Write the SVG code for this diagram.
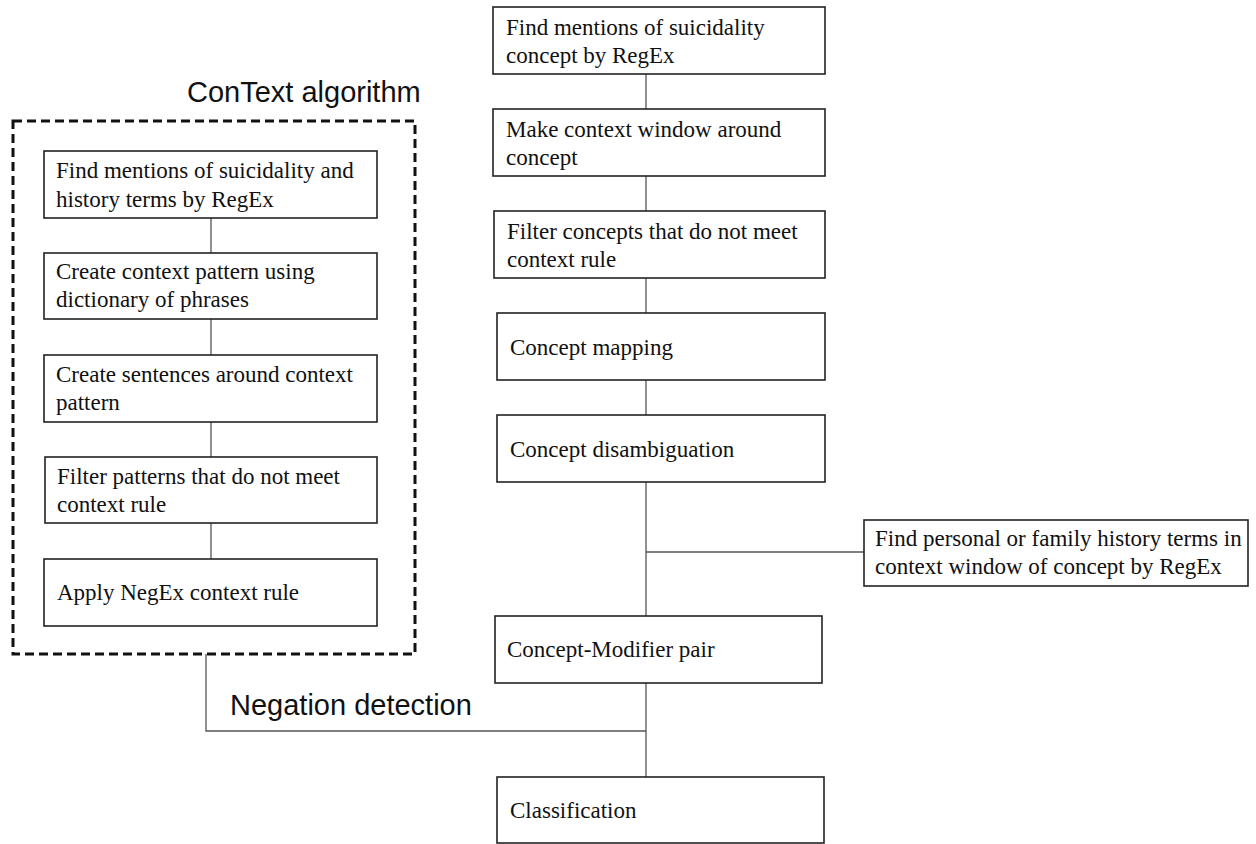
<svg xmlns="http://www.w3.org/2000/svg" width="1256" height="844" viewBox="0 0 1256 844">
<style>
.box{fill:#fff;stroke:#222;stroke-width:1.6}
.t{font-family:"Liberation Serif","Times New Roman",serif;font-size:23px;fill:#111}
.h{font-family:"Liberation Sans",Arial,sans-serif;font-size:29px;fill:#111}
.c{stroke:#555;stroke-width:1.3;fill:none}
</style>
<rect width="1256" height="844" fill="#fff"/>
<g id="connectors">
<line class="c" x1="211" y1="218" x2="211" y2="253"/>
<line class="c" x1="211" y1="319" x2="211" y2="355"/>
<line class="c" x1="211" y1="422" x2="211" y2="457"/>
<line class="c" x1="211" y1="523" x2="211" y2="559"/>
<polyline class="c" points="206,654 206,731 646,731"/>
<line class="c" x1="646" y1="74" x2="646" y2="109"/>
<line class="c" x1="646" y1="176" x2="646" y2="211"/>
<line class="c" x1="646" y1="278" x2="646" y2="313"/>
<line class="c" x1="646" y1="380" x2="646" y2="415"/>
<line class="c" x1="646" y1="482" x2="646" y2="616"/>
<line class="c" x1="646" y1="552" x2="864" y2="552"/>
<line class="c" x1="646" y1="683" x2="646" y2="777"/>
</g>
<g id="context-group">
<rect x="13" y="121" width="402" height="533" fill="none" stroke="#111" stroke-width="3" stroke-dasharray="9,5"/>
<text class="h" x="187" y="102">ConText algorithm</text>
</g>
<text id="negation-label" class="h" x="230" y="715">Negation detection</text>
<g id="l1"><rect class="box" x="44" y="151" width="333" height="67"/><text class="t" x="56" y="178">Find mentions of suicidality and</text><text class="t" x="56" y="207">history terms by RegEx</text></g>
<g id="l2"><rect class="box" x="44" y="253" width="333" height="66"/><text class="t" x="56" y="279">Create context pattern using</text><text class="t" x="56" y="307">dictionary of phrases</text></g>
<g id="l3"><rect class="box" x="44" y="355" width="333" height="67"/><text class="t" x="56" y="382">Create sentences around context</text><text class="t" x="56" y="410">pattern</text></g>
<g id="l4"><rect class="box" x="45" y="457" width="332" height="66"/><text class="t" x="57" y="484">Filter patterns that do not meet</text><text class="t" x="57" y="512">context rule</text></g>
<g id="l5"><rect class="box" x="44" y="559" width="333" height="67"/><text class="t" x="57" y="600">Apply NegEx context rule</text></g>
<g id="r1"><rect class="box" x="493" y="7" width="332" height="67"/><text class="t" x="506" y="35">Find mentions of suicidality</text><text class="t" x="506" y="63">concept by RegEx</text></g>
<g id="r2"><rect class="box" x="493" y="109" width="332" height="67"/><text class="t" x="506" y="137">Make context window around</text><text class="t" x="506" y="165">concept</text></g>
<g id="r3"><rect class="box" x="494" y="211" width="331" height="67"/><text class="t" x="507" y="239">Filter concepts that do not meet</text><text class="t" x="507" y="267">context rule</text></g>
<g id="r4"><rect class="box" x="497" y="313" width="328" height="67"/><text class="t" x="510" y="355">Concept mapping</text></g>
<g id="r5"><rect class="box" x="497" y="415" width="328" height="67"/><text class="t" x="510" y="457">Concept disambiguation</text></g>
<g id="r6"><rect class="box" x="864" y="520" width="384" height="66"/><text class="t" x="875" y="546">Find personal or family history terms in</text><text class="t" x="875" y="574">context window of concept by RegEx</text></g>
<g id="r7"><rect class="box" x="495" y="616" width="327" height="67"/><text class="t" x="507" y="657">Concept-Modifier pair</text></g>
<g id="r8"><rect class="box" x="497" y="777" width="327" height="66"/><text class="t" x="510" y="818">Classification</text></g>
</svg>
